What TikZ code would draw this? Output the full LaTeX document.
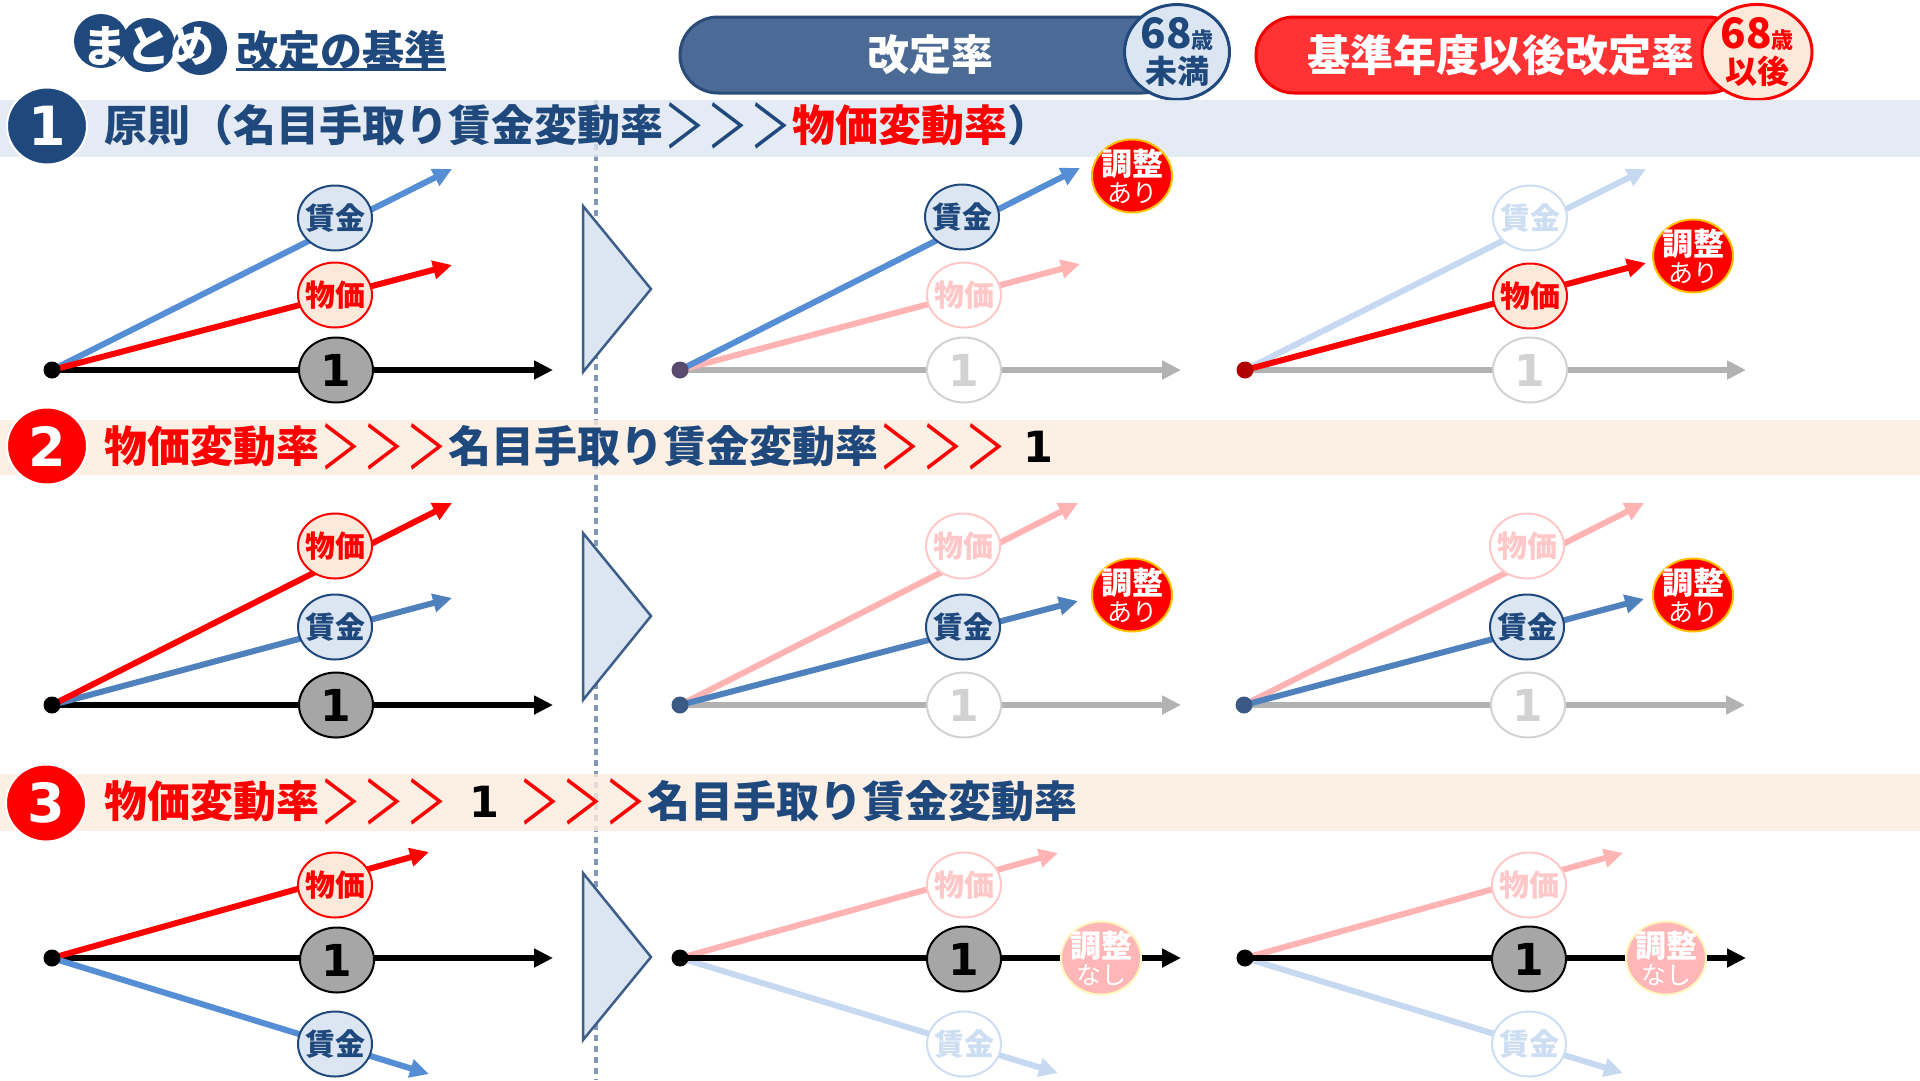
\documentclass[tikz,border=0pt]{standalone}
\usepackage{fontspec}
\usepackage{graphicx}
\setmainfont{Noto Sans CJK JP}
\newfontfamily\dvfont{DejaVu Sans}
\usetikzlibrary{arrows.meta,shapes.geometric}
\definecolor{navy}{RGB}{31,73,125}
\definecolor{lblue}{RGB}{220,230,242}
\definecolor{peach}{RGB}{253,233,217}
\definecolor{barblue}{RGB}{222,231,242}
\definecolor{barpeach}{RGB}{252,236,222}
\definecolor{pblue}{RGB}{75,106,150}
\definecolor{pbluebd}{RGB}{44,76,120}
\definecolor{pred}{RGB}{255,51,51}
\definecolor{predbd}{RGB}{240,0,0}
\definecolor{bluA}{RGB}{85,142,213}
\definecolor{blueB}{RGB}{79,129,189}
\definecolor{fblue}{RGB}{198,217,241}
\definecolor{fred}{RGB}{255,179,179}
\definecolor{grayln}{RGB}{178,178,178}
\definecolor{grayone}{RGB}{166,166,166}
\definecolor{fgray}{RGB}{210,210,210}
\definecolor{fpink}{RGB}{255,200,200}
\definecolor{fbluec}{RGB}{205,221,242}
\definecolor{goldbd}{RGB}{255,192,0}
\definecolor{fbadge}{RGB}{255,182,182}
\definecolor{fgold}{RGB}{255,248,190}
\definecolor{tribd}{RGB}{62,94,138}
\definecolor{dotc}{RGB}{130,152,184}
\definecolor{dpurple}{RGB}{90,74,112}
\definecolor{dred}{RGB}{176,0,0}
\definecolor{dnavy}{RGB}{58,90,133}
\newcommand\fsz[1]{\fontsize{#1}{#1}\selectfont}
\newcommand\gtch{\makebox[43pt]{\mdseries\scalebox{0.95}[1.4]{\raisebox{-0.11em}{＞}}}}
\begin{document}
\begin{tikzpicture}[x=1pt,y=-1pt,
  ln/.style={line width=6pt,-{Triangle[length=19pt,width=18pt]}},
  kln/.style={line width=5.5pt,-{Triangle[length=19pt,width=18pt]}},
  circ/.style={ellipse,minimum width=74pt,minimum height=65pt,inner xsep=-4pt,inner ysep=0pt,line width=2pt,font=\fsz{30}\bfseries},
  wage/.style={circ,draw=navy,fill=lblue,text=navy},
  wagef/.style={circ,draw=fbluec,fill=white,text=fbluec},
  price/.style={circ,draw=red,fill=peach,text=red},
  pricef/.style={circ,draw=fpink,fill=white,text=fpink},
  one/.style={circ,draw=black,fill=grayone,text=black,font=\dvfont\bfseries\fsz{44}},
  onef/.style={one,draw=fgray,fill=white,text=fgray},
  badge/.style={ellipse,minimum width=80pt,minimum height=73pt,inner xsep=-7pt,inner ysep=-3pt,line width=2pt,fill=red,draw=goldbd,text=white,align=center,font=\fontsize{31}{27}\selectfont\bfseries},
  badgef/.style={badge,fill=fbadge,draw=fgold},
  dot/.style={circle,minimum size=17pt,inner sep=0pt},
  numb/.style={ellipse,minimum width=80pt,minimum height=77pt,inner sep=0pt,draw=white,line width=2pt,text=white,font=\dvfont\bfseries\fsz{54}},
  bartext/.style={anchor=west,inner sep=0pt,font=\fsz{43}\bfseries},
  tri/.style={fill=lblue,draw=tribd,line width=2.5pt,line join=miter},
  pill/.style={rectangle,rounded corners=38pt,minimum height=76pt,line width=3pt,text=white,inner sep=0pt},
  agec/.style={ellipse,line width=3pt,inner xsep=0pt,inner ysep=-1pt,align=center,font=\fontsize{32}{35}\selectfont\bfseries}
]
\fill[white] (0,0) rectangle (1920,1080);
\useasboundingbox (0,0) rectangle (1920,1080);

% header
\node[circle,fill=navy,minimum size=54pt,inner sep=0pt] (m1) at (101,41) {};
\node[circle,fill=navy,minimum size=54pt,inner sep=0pt] (m2) at (148,45) {};
\node[circle,fill=navy,minimum size=54pt,inner sep=0pt] (m3) at (200,48) {};
\node[font=\fsz{44}\bfseries,text=white,inner sep=0pt] (mt) at (148,46) {まとめ};
\node[anchor=base west,inner sep=0pt,font=\fsz{42}\bfseries,text=navy] (ttl) at (236,66) {改定の基準};
\draw[navy,line width=3pt] ([yshift=-3pt]ttl.base west) -- ([yshift=-3pt]ttl.base east);

\node[pill,fill=pblue,draw=pbluebd,minimum width=500pt,font=\fsz{42}\bfseries] (p1) at (930,55) {改定率};
\node[agec,fill=lblue,draw=navy,text=navy,minimum width=105pt,minimum height=94pt] (c1) at (1177,52) {{\fsz{42}68}{\fsz{22}歳}\\未満};
\node[pill,fill=pred,draw=predbd,minimum width=490pt,font=\fsz{43}\bfseries] (p2) at (1501,55) {基準年度以後改定率};
\node[agec,fill=peach,draw=red,text=red,minimum width=110pt,minimum height=94pt] (c2) at (1757,52) {{\fsz{42}68}{\fsz{22}歳}\\以後};

% dotted divider and bars
\coordinate (dl1) at (596,100);
\coordinate (dl2) at (596,1080);
\draw[dotc,line width=4pt,dash pattern=on 6pt off 5pt] (dl1) -- (dl2);
\fill[barblue,fill opacity=0.8] (0,100) rectangle (1920,157);
\fill[barpeach,fill opacity=0.8] (0,420) rectangle (1920,475);
\fill[barpeach,fill opacity=0.8] (0,774) rectangle (1920,831);

\node[numb,fill=navy] (n1) at (47,126) {1};
\node[numb,fill=red] (n2) at (47,446) {2};
\node[numb,fill=red] (n3) at (46,803) {3};

\node[bartext] (t1) at (104,126) {\color{navy}原則（名目手取り賃金変動率\gtch\gtch\gtch\color{red}物価変動率\color{navy}）};
\node[bartext] (t2) at (104,446.5) {\color{red}物価変動率\gtch\gtch\gtch\color{navy}名目手取り賃金変動率\color{red}\gtch\gtch\gtch\hspace{16pt}\color{black}{\dvfont 1}};
\node[bartext] (t3) at (104,801.5) {\color{red}物価変動率\gtch\gtch\gtch\hspace{21pt}\color{black}{\dvfont 1}\hspace{19pt}\color{red}\gtch\gtch\gtch\color{navy}名目手取り賃金変動率};

% triangles
\draw[tri] (583,206) -- (651,289) -- (583,372) -- cycle;
\draw[tri] (583,533) -- (651,616) -- (583,700) -- cycle;
\draw[tri] (583,873) -- (651,957) -- (583,1040) -- cycle;

% ---------- row 1 ----------
\begin{scope}[shift={(52,370)}]
\coordinate (a1o) at (0,0); \coordinate (a1h) at (501,0);
\coordinate (a1u) at (400,-201); \coordinate (a1l) at (400,-105);
\draw[kln,black] (a1o) -- (a1h);
\draw[ln,bluA] (a1o) -- (a1u);
\draw[ln,red] (a1o) -- (a1l);
\node[wage] (a1w) at (283,-152) {賃金};
\node[price] (a1p) at (283,-75) {物価};
\node[one] (a1n) at (284,0) {1};
\node[dot,fill=black] (a1d) at (a1o) {};
\end{scope}
\begin{scope}[shift={(680,370)}]
\coordinate (b1o) at (0,0); \coordinate (b1h) at (501,0);
\coordinate (b1u) at (400,-202); \coordinate (b1l) at (400,-106);
\draw[ln,grayln] (b1o) -- (b1h);
\draw[ln,fred] (b1o) -- (b1l);
\draw[ln,bluA] (b1o) -- (b1u);
\node[onef] (b1n) at (284,0) {1};
\node[pricef] (b1p) at (284,-75) {物価};
\node[wage] (b1w) at (282,-153) {賃金};
\node[badge] (b1b) at (452,-194) {調整\\{\fsz{25}\mdseries あり}};
\node[dot,fill=dpurple] (b1d) at (b1o) {};
\end{scope}
\begin{scope}[shift={(1245,370)}]
\coordinate (c1o) at (0,0); \coordinate (c1h) at (501,0);
\coordinate (c1u) at (401,-201); \coordinate (c1l) at (401,-107);
\draw[ln,grayln] (c1o) -- (c1h);
\draw[ln,fblue] (c1o) -- (c1u);
\draw[ln,red] (c1o) -- (c1l);
\node[onef] (c1n) at (285,0) {1};
\node[wagef] (c1w) at (285,-152) {賃金};
\node[price] (c1p) at (285,-74) {物価};
\node[badge] (c1b) at (448,-114) {調整\\{\fsz{25}\mdseries あり}};
\node[dot,fill=dred] (c1d) at (c1o) {};
\end{scope}

% ---------- row 2 ----------
\begin{scope}[shift={(52,705)}]
\coordinate (a2o) at (0,0); \coordinate (a2h) at (501,0);
\coordinate (a2u) at (400,-202); \coordinate (a2l) at (400,-107);
\draw[kln,black] (a2o) -- (a2h);
\draw[ln,blueB] (a2o) -- (a2l);
\draw[ln,red] (a2o) -- (a2u);
\node[price] (a2p) at (283,-159) {物価};
\node[wage] (a2w) at (283,-78) {賃金};
\node[one] (a2n) at (284,0) {1};
\node[dot,fill=black] (a2d) at (a2o) {};
\end{scope}
\begin{scope}[shift={(680,705)}]
\coordinate (b2o) at (0,0); \coordinate (b2h) at (501,0);
\coordinate (b2u) at (398,-202); \coordinate (b2l) at (398,-104);
\draw[ln,grayln] (b2o) -- (b2h);
\draw[ln,fred] (b2o) -- (b2u);
\draw[ln,blueB] (b2o) -- (b2l);
\node[onef] (b2n) at (284,0) {1};
\node[pricef] (b2p) at (283,-159) {物価};
\node[wage] (b2w) at (283,-78) {賃金};
\node[badge] (b2b) at (452,-110) {調整\\{\fsz{25}\mdseries あり}};
\node[dot,fill=dnavy] (b2d) at (b2o) {};
\end{scope}
\begin{scope}[shift={(1244,705)}]
\coordinate (c2o) at (0,0); \coordinate (c2h) at (501,0);
\coordinate (c2u) at (400,-202); \coordinate (c2l) at (400,-106);
\draw[ln,grayln] (c2o) -- (c2h);
\draw[ln,fred] (c2o) -- (c2u);
\draw[ln,blueB] (c2o) -- (c2l);
\node[onef] (c2n) at (284,0) {1};
\node[pricef] (c2p) at (283,-159) {物価};
\node[wage] (c2w) at (283,-78) {賃金};
\node[badge] (c2b) at (449,-110) {調整\\{\fsz{25}\mdseries あり}};
\node[dot,fill=dnavy] (c2d) at (c2o) {};
\end{scope}

% ---------- row 3 ----------
\begin{scope}[shift={(52,958)}]
\coordinate (a3o) at (0,0); \coordinate (a3h) at (501,0);
\coordinate (a3u) at (377,-106); \coordinate (a3l) at (377,116);
\draw[kln,black] (a3o) -- (a3h);
\draw[ln,red] (a3o) -- (a3u);
\draw[ln,bluA] (a3o) -- (a3l);
\node[price] (a3p) at (283,-73) {物価};
\node[one] (a3n) at (285,2) {1};
\node[wage] (a3w) at (283,86) {賃金};
\node[dot,fill=black] (a3d) at (a3o) {};
\end{scope}
\begin{scope}[shift={(680,958)}]
\coordinate (b3o) at (0,0); \coordinate (b3h) at (501,0);
\coordinate (b3u) at (378,-105); \coordinate (b3l) at (378,115);
\draw[ln,fred] (b3o) -- (b3u);
\draw[ln,fblue] (b3o) -- (b3l);
\draw[kln,black] (b3o) -- (b3h);
\node[pricef] (b3p) at (284,-73) {物価};
\node[one] (b3n) at (284,1) {1};
\node[wagef] (b3w) at (284,86) {賃金};
\node[badgef] (b3b) at (421,0) {調整\\{\fsz{25}\mdseries なし}};
\node[dot,fill=black] (b3d) at (b3o) {};
\end{scope}
\begin{scope}[shift={(1245,958)}]
\coordinate (c3o) at (0,0); \coordinate (c3h) at (501,0);
\coordinate (c3u) at (378,-105); \coordinate (c3l) at (378,115);
\draw[ln,fred] (c3o) -- (c3u);
\draw[ln,fblue] (c3o) -- (c3l);
\draw[kln,black] (c3o) -- (c3h);
\node[pricef] (c3p) at (284,-73) {物価};
\node[one] (c3n) at (284,1) {1};
\node[wagef] (c3w) at (284,86) {賃金};
\node[badgef] (c3b) at (421,0) {調整\\{\fsz{25}\mdseries なし}};
\node[dot,fill=black] (c3d) at (c3o) {};
\end{scope}
\end{tikzpicture}
\end{document}
